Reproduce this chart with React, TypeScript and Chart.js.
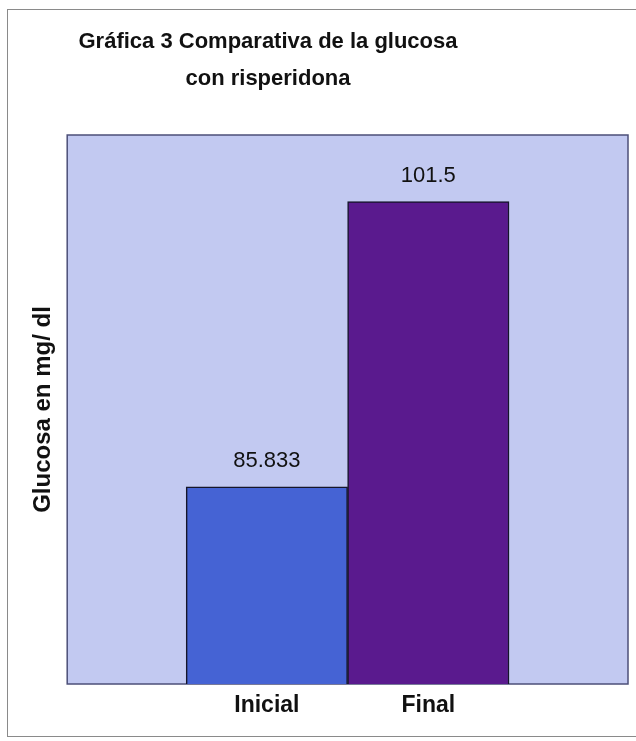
import React, { useEffect, useRef } from "react";
import { Chart, registerables } from "chart.js";

Chart.register(...registerables);

const categories: string[] = ["Inicial", "Final"];
const values: number[] = [85.833, 101.5];
const barColors: string[] = ["#4563d4", "#5a1a8e"];
const titleLines: string[] = ["Gráfica 3 Comparativa de la glucosa", "con risperidona"];
const yAxisTitle = "Glucosa en mg/ dl";

const FONT = "'Liberation Sans', Arial, Helvetica, sans-serif";

const plotBackground = {
  id: "plotBackground",
  beforeDraw(chart: any) {
    const { ctx, chartArea } = chart;
    if (!chartArea) return;
    ctx.save();
    ctx.fillStyle = "#c2c9f1";
    ctx.fillRect(chartArea.left, chartArea.top, chartArea.right - chartArea.left, chartArea.bottom - chartArea.top);
    ctx.strokeStyle = "#4c4f78";
    ctx.lineWidth = 1.5;
    ctx.strokeRect(chartArea.left, chartArea.top, chartArea.right - chartArea.left, chartArea.bottom - chartArea.top);
    ctx.restore();
  },
};

const titleShift = {
  id: "titleShift",
  afterLayout(chart: any) {
    const t = chart.titleBlock;
    if (t) {
      t.left = 0;
      t.right = 536;
    }
  },
};

const valueLabels = {
  id: "valueLabels",
  afterDatasetsDraw(chart: any) {
    const { ctx } = chart;
    const meta = chart.getDatasetMeta(0);
    ctx.save();
    ctx.font = `22px ${FONT}`;
    ctx.fillStyle = "#111111";
    ctx.textAlign = "center";
    ctx.textBaseline = "middle";
    meta.data.forEach((bar: any, i: number) => {
      ctx.fillText(String(values[i]), bar.x, bar.y - 26);
    });
    ctx.restore();
  },
};

export default function App() {
  const canvasRef = useRef<HTMLCanvasElement | null>(null);

  useEffect(() => {
    if (!canvasRef.current) return;
    const chart = new Chart(canvasRef.current, {
      type: "bar",
      data: {
        datasets: [
          {
            data: categories.map((_, i) => ({ x: i + 1, y: values[i] })),
            backgroundColor: barColors,
            borderColor: "#15152a",
            borderWidth: 1.5,
            barPercentage: 1,
            categoryPercentage: 1,
          },
        ],
      },
      options: {
        animation: false,
        responsive: false,
        maintainAspectRatio: false,
        layout: { padding: { left: 25.4, right: 8, top: 11, bottom: 13.4 } },
        plugins: {
          legend: { display: false },
          tooltip: { enabled: false },
          title: {
            display: true,
            text: titleLines,
            color: "#111111",
            font: { family: FONT, size: 22, weight: "bold", lineHeight: 1.7 },
            padding: { top: 12.3, bottom: 36.9 },
          },
        },
        scales: {
          x: {
            type: "linear",
            offset: false,
            min: -0.237,
            max: 3.237,
            grid: { display: false, drawTicks: false },
            border: { display: false },
            afterBuildTicks: (scale: any) => {
              scale.ticks = categories.map((_, i) => ({ value: i + 1 }));
            },
            ticks: {
              padding: 8,
              color: "#111111",
              font: { family: FONT, size: 23, weight: "bold" },
              callback: (v: any) => categories[Math.round(Number(v)) - 1] ?? "",
            },
          },
          y: {
            min: 75,
            max: 105.15,
            grid: { display: false, drawTicks: false },
            border: { display: false },
            ticks: { display: false },
            title: {
              display: true,
              text: yAxisTitle,
              color: "#111111",
              font: { family: FONT, size: 24, weight: "bold" },
              padding: { top: 4, bottom: 9 },
            },
          },
        },
      },
      plugins: [plotBackground, titleShift, valueLabels],
    } as any);
    return () => chart.destroy();
  }, []);

  return (
    <div style={{ position: "absolute", left: 0, top: 0, width: 636, height: 741, background: "#ffffff" }}>
      <div
        style={{
          position: "absolute",
          left: 7,
          top: 9,
          width: 640,
          height: 728,
          borderLeft: "1px solid #8a8a8a",
          borderTop: "1px solid #8a8a8a",
          borderBottom: "1px solid #8a8a8a",
          boxSizing: "border-box",
        }}
      />
      <canvas ref={canvasRef} width={636} height={741} style={{ position: "absolute", left: 0, top: 0 }} />
    </div>
  );
}
